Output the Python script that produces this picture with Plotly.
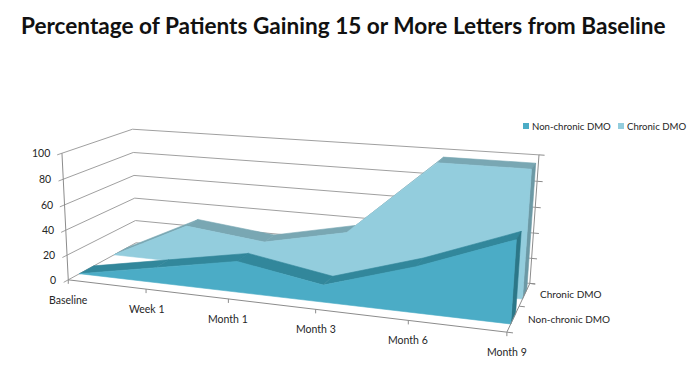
import numpy as np
import plotly.graph_objects as go

# ---------------- data ----------------
title = "Percentage of Patients Gaining 15 or More Letters from Baseline"
categories = ["Baseline", "Week 1", "Month 1", "Month 3", "Month 6", "Month 9"]
series_names = ["Non-chronic DMO", "Chronic DMO"]
non_chronic = [0, 12, 24, 13, 34, 60]
chronic = [0, 31, 24, 38, 97, 97]
z_ticks = [0, 20, 40, 60, 80, 100]

# ---------------- perspective camera (layout calibration) ----------------
# world: X = category index, Y = depth (0 front .. 1 back), Z = value (0..100)
calib = np.array([
    [0, 0, 0, 68.5, 280], [0, 0, 100, 62, 153],
    [0, 1, 0, 136, 243], [0, 1, 100, 132, 129],
    [5, 1, 0, 530, 283], [5, 1, 100, 539, 155],
    [5, 0, 0, 507, 332],
    [1, 0, 0, 146, 289], [2, 0, 0, 228, 299],
    [3, 0, 0, 316, 309.5], [4, 0, 0, 408, 320.5],
    [0, 1, 20, 135, 220], [0, 1, 60, 135, 176], [5, 1, 40, 533.3, 233.3],
])


def fit_camera(c):
    rows = []
    for X, Y, Z, u, v in c:
        Zs, us, vs = Z / 100, u / 100, v / 100
        rows.append([X, Y, Zs, 1, 0, 0, 0, 0, -us * X, -us * Y, -us * Zs, -us])
        rows.append([0, 0, 0, 0, X, Y, Zs, 1, -vs * X, -vs * Y, -vs * Zs, -vs])
    _, _, vt = np.linalg.svd(np.array(rows, dtype=float))
    return vt[-1].reshape(3, 4)


M = fit_camera(calib)


def proj(X, Y, Z):
    h = M @ np.array([X, Y, Z / 100.0, 1.0])
    return 100 * h[0] / h[2], 100 * h[1] / h[2]


fig = go.Figure()
GRID = "#A0A0A0"
AXIS = "#8C8C8C"
TXT = "#262626"
FONT = "Lato"
FS = 10.5


def poly(pts, color, lw=0.6):
    xy = [proj(*p) for p in pts]
    xs = [a for a, b in xy] + [xy[0][0]]
    ys = [b for a, b in xy] + [xy[0][1]]
    fig.add_trace(go.Scatter(x=xs, y=ys, mode="lines", fill="toself",
                             fillcolor=color, line=dict(color=color, width=lw),
                             hoverinfo="skip", showlegend=False))


def seg(p, q, color, w=1):
    a, b = proj(*p), proj(*q)
    fig.add_trace(go.Scatter(x=[a[0], b[0]], y=[a[1], b[1]], mode="lines",
                             line=dict(color=color, width=w),
                             hoverinfo="skip", showlegend=False))


n = len(categories)
xmax = n - 1

# walls gridlines
for z in z_ticks:
    seg((0, -0.06, z), (0, 1, z), GRID)
    seg((0, 1, z), (xmax, 1, z), GRID)
# back-right vertical axis with ticks
seg((xmax, 1, 0), (xmax, 1, 100), AXIS)
for z in z_ticks:
    seg((xmax, 1, z), (xmax + 0.06, 1, z), AXIS)
# left value axis
seg((0, 0, 0), (0, 0, 100), AXIS)


def ribbon(vals, d0, d1, c_front, c_top, c_end):
    for i in range(n - 1):
        poly([(i, d0, vals[i]), (i + 1, d0, vals[i + 1]),
              (i + 1, d1, vals[i + 1]), (i, d1, vals[i])], c_top)
    poly([(xmax, d0, 0), (xmax, d0, vals[-1]), (xmax, d1, vals[-1]), (xmax, d1, 0)], c_end)
    pts = [(0, d0, 0)] + [(i, d0, vals[i]) for i in range(n)] + [(xmax, d0, 0)]
    poly(pts, c_front)


ribbon(chronic, 0.65, 0.85, "#93CDDD", "#79A7B3", "#6C99A5")
ribbon(non_chronic, 0.15, 0.35, "#4BACC6", "#32879B", "#2C7788")

# category axis (front edge)
seg((0, 0, 0), (xmax, 0, 0), AXIS)
for i in range(n):
    x, y = proj(i, 0, 0)
    fig.add_trace(go.Scatter(x=[x, x], y=[y, y + 4], mode="lines",
                             line=dict(color=AXIS, width=1), hoverinfo="skip",
                             showlegend=False))
# depth axis
seg((xmax, 0, 0), (xmax, 1, 0), AXIS)
for d in [0, 0.5, 1]:
    seg((xmax, d, 0), (xmax + 0.06, d, 0), AXIS)

ann = []
for i, c in enumerate(categories):
    x, y = proj(i, 0, 0)
    ann.append(dict(x=x, y=y + 20, text=c, showarrow=False, xanchor="center",
                    yanchor="middle", font=dict(family=FONT, size=FS, color=TXT)))
for z in z_ticks:
    x, y = proj(0, 0, z)
    ann.append(dict(x=x - 10, y=y, text=str(z), showarrow=False, xanchor="right",
                    yanchor="middle", font=dict(family=FONT, size=FS, color=TXT)))
for name, d in zip(series_names, [0.25, 0.75]):
    x, y = proj(xmax, d, 0)
    ann.append(dict(x=x + 13, y=y, text=name, showarrow=False, xanchor="left",
                    yanchor="middle", font=dict(family=FONT, size=10, color=TXT)))

# legend (manual)
shapes = []
leg = [(series_names[0], "#4BACC6", 523), (series_names[1], "#93CDDD", 618)]
for name, col, lx in leg:
    shapes.append(dict(type="rect", xref="x", yref="y", x0=lx, x1=lx + 6, y0=123,
                       y1=129, fillcolor=col, line=dict(width=0)))
    ann.append(dict(x=lx + 7, y=126, text=name, showarrow=False, xanchor="left",
                    yanchor="middle", font=dict(family=FONT, size=9.6, color=TXT)))

ann.append(dict(x=19, y=25, text="<b>" + title + "</b>", showarrow=False,
                xanchor="left", yanchor="middle",
                font=dict(family=FONT, size=22.6, color="#111111")))

# the page body has an 8px margin: the plotting area is offset so that
# one data unit equals one screen pixel of the 700x372 window
OFF = 8
fig.update_layout(
    width=700 - OFF, height=372 - OFF, autosize=False,
    margin=dict(l=0, r=0, t=0, b=0),
    paper_bgcolor="white", plot_bgcolor="white",
    xaxis=dict(range=[OFF, 700], visible=False, fixedrange=True),
    yaxis=dict(range=[372, OFF], visible=False, fixedrange=True),
    annotations=ann, shapes=shapes, showlegend=False,
)
fig.write_html("out.html")
